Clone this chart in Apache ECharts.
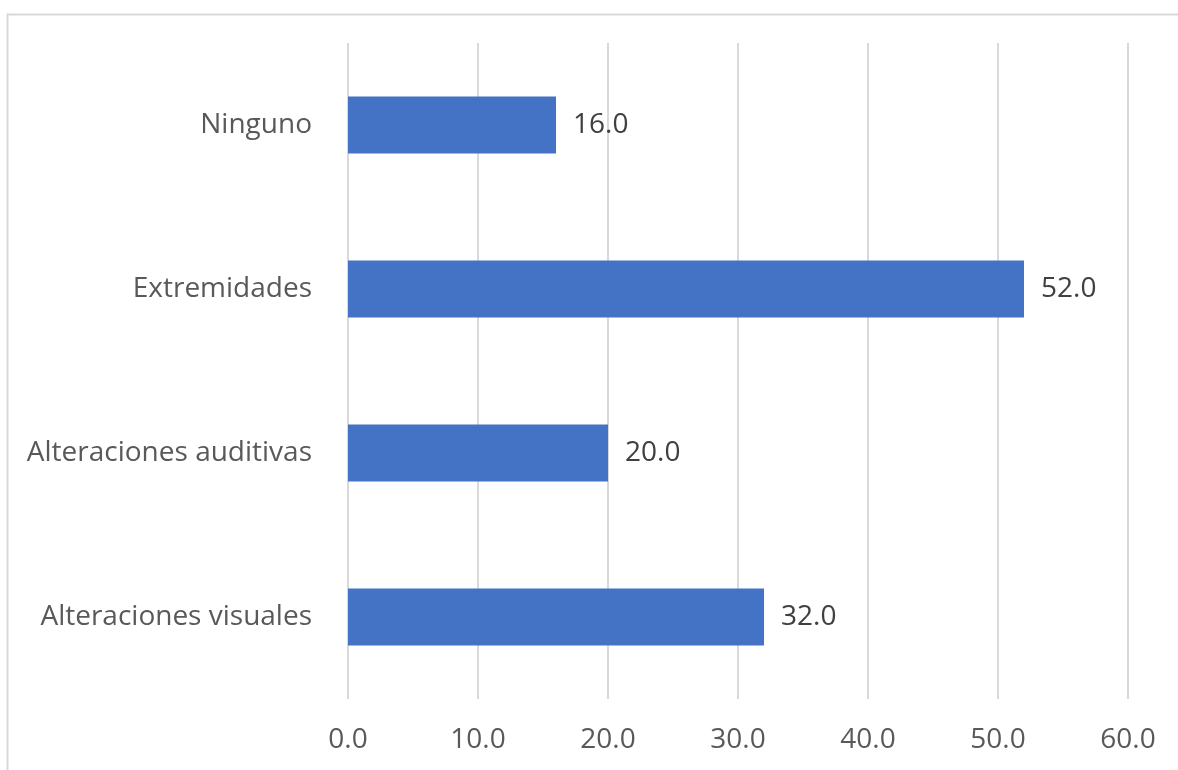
<!DOCTYPE html>
<html>
<head>
<meta charset="utf-8">
<script src="https://cdn.jsdelivr.net/npm/echarts@6/dist/echarts.min.js"></script>
<style>
  html, body { margin: 0; padding: 0; background: #fff; }
  #chart { width: 1178px; height: 770px; }
</style>
</head>
<body>
<div id="chart"></div>
<script>
// Categories listed bottom to top
const categories = ['Alteraciones visuales', 'Alteraciones auditivas', 'Extremidades', 'Ninguno'];
const values = [32.0, 20.0, 52.0, 16.0];
const axisMin = 0;
const axisMax = 60;
const axisStep = 10;

const FONT = '"Open Sans", "Noto Sans", sans-serif';
const TEXT = '#595959';

const chart = echarts.init(document.getElementById('chart'), null, { renderer: 'canvas' });
chart.setOption({
  animation: false,
  backgroundColor: '#ffffff',
  graphic: [{
    type: 'rect',
    shape: { x: 7.5, y: 14.5, width: 1300, height: 900 },
    style: { fill: 'none', stroke: '#d9d9d9', lineWidth: 2 },
    silent: true
  }],
  grid: { left: 348, right: 50, top: 43, bottom: 71, containLabel: false },
  xAxis: {
    type: 'value',
    min: axisMin,
    max: axisMax,
    interval: axisStep,
    axisLine: { show: false },
    axisTick: { show: false },
    splitLine: { show: true, lineStyle: { color: '#d9d9d9', width: 2 } },
    axisLabel: {
      color: TEXT,
      fontFamily: FONT,
      fontSize: 28,
      margin: 27,
      formatter: v => v.toFixed(1)
    }
  },
  yAxis: {
    type: 'category',
    data: categories,
    axisLine: { show: false },
    axisTick: { show: false },
    axisLabel: {
      color: TEXT,
      fontFamily: FONT,
      fontSize: 28,
      margin: 36
    }
  },
  series: [{
    type: 'bar',
    data: values,
    barWidth: 57,
    itemStyle: { color: '#4472C4' },
    label: {
      show: true,
      position: 'right',
      distance: 17,
      color: '#404040',
      fontFamily: FONT,
      fontSize: 28,
      formatter: p => p.value.toFixed(1)
    }
  }]
});
</script>
</body>
</html>
